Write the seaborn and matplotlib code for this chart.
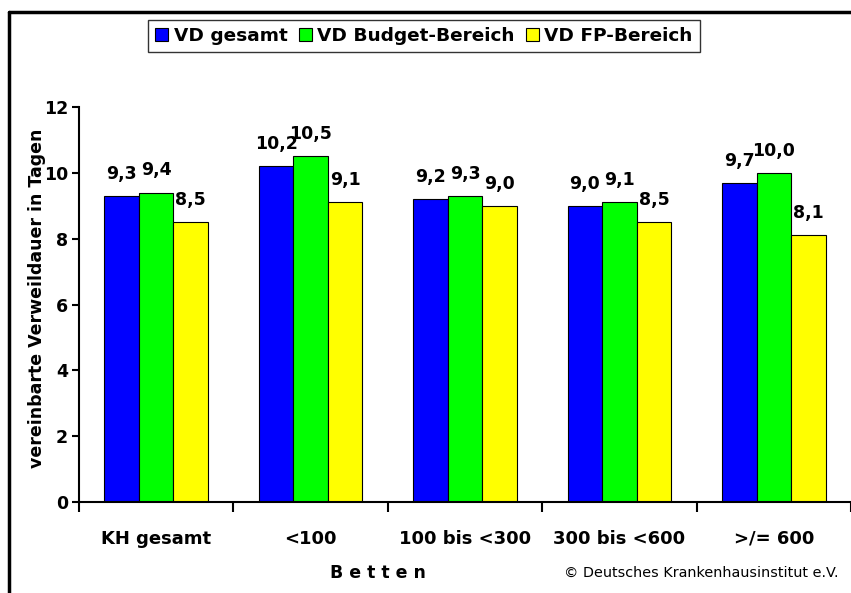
import matplotlib
matplotlib.use("Agg")
import matplotlib.pyplot as plt
from matplotlib.lines import Line2D
import pandas as pd
import seaborn as sns

# Daten aus der Grafik
kategorien = ["KH gesamt", "<100", "100 bis <300", "300 bis <600", ">/= 600"]
serien = ["VD gesamt", "VD Budget-Bereich", "VD FP-Bereich"]
vd_gesamt = [9.3, 10.2, 9.2, 9.0, 9.7]
vd_budget = [9.4, 10.5, 9.3, 9.1, 10.0]
vd_fp = [8.5, 9.1, 9.0, 8.5, 8.1]
farben = ["#0000FF", "#00FF00", "#FFFF00"]

df = pd.DataFrame({
    "Betten": kategorien * 3,
    "Serie": [serien[0]] * 5 + [serien[1]] * 5 + [serien[2]] * 5,
    "Wert": vd_gesamt + vd_budget + vd_fp,
})

sns.set_style("white")
plt.rcParams["font.family"] = ["DejaVu Sans"]
plt.rcParams["text.color"] = "black"
plt.rcParams["axes.labelcolor"] = "black"
plt.rcParams["xtick.color"] = "black"
plt.rcParams["ytick.color"] = "black"

fig = plt.figure(figsize=(8.51, 5.93), dpi=100)
ax = fig.add_axes([79 / 851, 1 - 502 / 593, 1 - 79 / 851, (502 - 107) / 593])

sns.barplot(data=df, x="Betten", y="Wert", hue="Serie", order=kategorien,
            hue_order=serien, palette=farben, width=0.67, gap=0,
            edgecolor="black", linewidth=0.8, saturation=1, ax=ax,
            legend=True)

# Wertbeschriftungen
for cont in ax.containers:
    labels = [f"{b.get_height():.1f}".replace(".", ",") for b in cont]
    ax.bar_label(cont, labels=labels, padding=9.5, fontsize=12.5,
                 fontweight="bold", color="black")

ax.set_xlim(-0.5, 4.5)
ax.set_ylim(0, 12)
ax.set_yticks([0, 2, 4, 6, 8, 10, 12])
ax.set_xticks([-0.5, 0.5, 1.5, 2.5, 3.5, 4.5], minor=True)
ax.tick_params(axis="x", which="major", length=0, pad=20, labelsize=13)
ax.tick_params(axis="x", which="minor", length=7, width=1.5, direction="out",
               bottom=True)
ax.tick_params(axis="y", length=5, width=1.5, direction="out", left=True,
               labelsize=12.5, pad=3)
for lab in ax.get_xticklabels() + ax.get_yticklabels():
    lab.set_fontweight("bold")

for s in ["top", "right"]:
    ax.spines[s].set_visible(False)
for s in ["left", "bottom"]:
    ax.spines[s].set_linewidth(1.5)
    ax.spines[s].set_color("black")

ax.set_xlabel("")
ax.set_ylabel("")
fig.text(37 / 851, 1 - 298 / 593, "vereinbarte Verweildauer in Tagen",
         rotation=90, ha="center", va="center", fontsize=12.5,
         fontweight="bold")

fig.text(378 / 851, 1 - 573 / 593, "B e t t e n", ha="center", va="center",
         fontsize=12.5, fontweight="bold")
fig.text(838 / 851, 1 - 573 / 593, "© Deutsches Krankenhausinstitut e.V.",
         ha="right", va="center", fontsize=10.4)

# Legende
handles, lbls = ax.get_legend_handles_labels()
ax.legend_.remove()
leg = fig.legend(handles, lbls, loc="center", ncol=3,
                 bbox_to_anchor=(424 / 851, 1 - 36 / 593), frameon=True,
                 fancybox=False, edgecolor="black", fontsize=13.3,
                 handlelength=0.7, handleheight=0.7, handletextpad=0.3,
                 columnspacing=0.6, borderpad=0.4, borderaxespad=0)
leg.get_frame().set_linewidth(1.0)
for t in leg.get_texts():
    t.set_fontweight("bold")

# Rahmen um die Grafik
fig.add_artist(Line2D([9 / 851, 9 / 851], [0, 1 - 12 / 593], color="black",
                      lw=2.5, transform=fig.transFigure))
fig.add_artist(Line2D([9 / 851, 1], [1 - 12 / 593, 1 - 12 / 593],
                      color="black", lw=2.5, transform=fig.transFigure))

fig.savefig("out.png", dpi=100)
